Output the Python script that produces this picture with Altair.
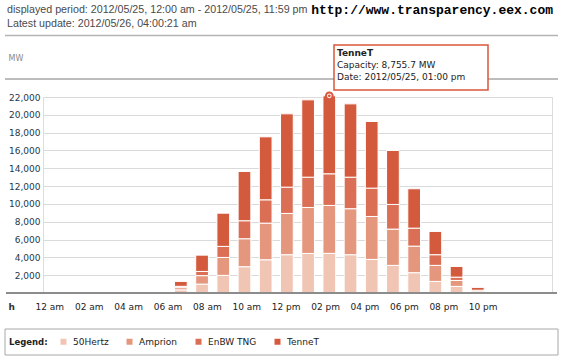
import altair as alt
import pandas as pd

# ---------------- data ----------------
hours = [6, 7, 8, 9, 10, 11, 12, 13, 14, 15, 16, 17, 18, 19, 20]
series = ["50Hertz", "Amprion", "EnBW TNG", "TenneT"]
colors = ["#f1c5b4", "#e5977e", "#db6f56", "#d45a3e"]
hertz50 = [350, 1000, 1980, 2950, 3730, 4300, 4440, 4450, 4300, 3770, 3100, 2280, 1300, 740, 100]
amprion = [250, 950, 2010, 3140, 4110, 4630, 5160, 5380, 5160, 4820, 4070, 2980, 1800, 670, 130]
enbw = [150, 470, 1240, 2020, 2620, 2950, 3400, 3550, 3540, 3180, 2770, 2020, 1200, 370, 80]
tennet = [550, 1830, 3730, 5530, 7070, 8230, 8680, 8755.7, 8230, 7480, 6060, 4420, 2610, 1200, 320]

y_ticks = [2000, 4000, 6000, 8000, 10000, 12000, 14000, 16000, 18000, 20000, 22000]
tick_hours = [0, 2, 4, 6, 8, 10, 12, 14, 16, 18, 20, 22]
tick_labels = ["12 am", "02 am", "04 am", "06 am", "08 am", "10 am",
               "12 pm", "02 pm", "04 pm", "06 pm", "08 pm", "10 pm"]

header1 = "displayed period: 2012/05/25, 12:00 am - 2012/05/25, 11:59 pm"
header2 = "Latest update: 2012/05/26, 04:00:21 am"
url_text = "http://www.transparency.eex.com"
tip_series = "TenneT"
tip_hour = 13
tip_date = "Date: 2012/05/25, 01:00 pm"

# ---------------- tables ----------------
rows = []
for i, h in enumerate(hours):
    for k, (name, vals) in enumerate(zip(series, [hertz50, amprion, enbw, tennet])):
        rows.append({"hour": h, "operator": name, "value": vals[i], "order": k})
df = pd.DataFrame(rows)

ti = hours.index(tip_hour)
tip_total = hertz50[ti] + amprion[ti] + enbw[ti] + tennet[ti]
tip_cap = f"Capacity: {tennet[ti]:,.1f} MW"
pt_df = pd.DataFrame({"hour": [tip_hour], "value": [tip_total]})
one = pd.DataFrame({"a": [0]})

FONT = "DejaVu Sans"
RED = "#d9573c"

xband = alt.Scale(domain=list(range(24)), paddingInner=0.4, paddingOuter=0.2)
yscale = alt.Scale(domain=[0, 22000], nice=False, zero=True)
yaxis = alt.Axis(values=y_ticks, labelExpr="format(datum.value, ',')", title="MW", titleAngle=0,
                 titleX=-35, titleY=-38.5,
                 titleAlign="left", titleBaseline="middle", titleFontSize=8, titleFontWeight="normal",
                 titleColor="#8a8a8a", titleFont=FONT, labelFont=FONT, labelFontSize=9,
                 labelColor="#1d3a4c", labelPadding=3, domain=False, ticks=False, grid=True,
                 gridColor="#dadada", gridWidth=1)

bars = alt.Chart(df).mark_bar(stroke="white", strokeWidth=1).encode(
    x=alt.X("hour:O", scale=xband, axis=None),
    y=alt.Y("value:Q", stack="zero", scale=yscale, axis=yaxis),
    color=alt.Color("operator:N", scale=alt.Scale(domain=series, range=colors),
                    legend=alt.Legend(title="Legend:", orient="none", legendX=-34, legendY=240,
                                      direction="horizontal", columns=4, titleOrient="left",
                                      titleFont=FONT, titleFontSize=8.5, titleFontWeight="bold",
                                      titleColor="#222", titlePadding=11, titleBaseline="middle",
                                      labelFont=FONT, labelFontSize=9, labelColor="#222",
                                      labelOffset=5, symbolType="square", symbolSize=36,
                                      symbolStrokeWidth=0, columnPadding=16)),
    order=alt.Order("order:Q", sort="ascending"),
)

marker = alt.Chart(pt_df).mark_point(shape="circle", filled=True, fill="white", stroke=RED,
                                     strokeWidth=2, size=45, opacity=1).encode(
    x=alt.X("hour:O", scale=xband, axis=None),
    y=alt.Y("value:Q", stack=None, scale=yscale, axis=yaxis),
)
marker_dot = alt.Chart(pt_df).mark_point(shape="circle", filled=True, color=RED, size=8, opacity=1).encode(
    x=alt.X("hour:O", scale=xband, axis=None),
    y=alt.Y("value:Q", stack=None, scale=yscale, axis=yaxis),
)

label_expr = "[" + ",".join(f"'{l}'" for l in tick_labels) + "][datum.value/2]"
xlab = alt.Chart(pd.DataFrame({"t": tick_hours})).mark_point(opacity=0).encode(
    x=alt.X("t:Q", scale=alt.Scale(domain=[-0.32, 25.52], nice=False, zero=False),
            axis=alt.Axis(orient="bottom", values=tick_hours, labelExpr=label_expr, title="h",
                          titleX=-35, titleY=13.5, titleAlign="left", titleBaseline="middle",
                          titleFont=FONT, titleFontSize=9, titleFontWeight="bold", titleColor="#333",
                          labelFont=FONT, labelFontSize=9, labelColor="#222", labelPadding=9,
                          domain=False, ticks=False, grid=False, labelFlush=False,
                          labelOverlap=False)),
)

baseline = alt.Chart(one).mark_rule(color="#8c8c8c", strokeWidth=2).encode(
    y=alt.YDatum(0, scale=yscale, axis=yaxis), x=alt.value(-37), x2=alt.value(514))

sep1 = alt.Chart(one).mark_rule(color="#b4b4b4", strokeWidth=1.5).encode(
    x=alt.value(-38), x2=alt.value(515), y=alt.value(-61.5))
sep2 = alt.Chart(one).mark_rule(color="#7a7a7a", strokeWidth=1).encode(
    x=alt.value(-38), x2=alt.value(515), y=alt.value(-18))

tipbox = alt.Chart(one).mark_rect(fill="white", stroke=RED, strokeWidth=1.5).encode(
    x=alt.value(291), x2=alt.value(445), y=alt.value(-52), y2=alt.value(-7))
tip1 = alt.Chart(pd.DataFrame({"t": [tip_series]})).mark_text(
    font=FONT, fontSize=9, fontWeight="bold", color="#222", align="left", baseline="alphabetic").encode(
    text="t:N", x=alt.value(294), y=alt.value(-41))
tip2 = alt.Chart(pd.DataFrame({"t": [tip_cap]})).mark_text(
    font=FONT, fontSize=9, color="#222", align="left", baseline="alphabetic").encode(
    text="t:N", x=alt.value(294), y=alt.value(-29))
tip3 = alt.Chart(pd.DataFrame({"t": [tip_date]})).mark_text(
    font=FONT, fontSize=9, color="#222", align="left", baseline="alphabetic").encode(
    text="t:N", x=alt.value(294), y=alt.value(-17))

h1 = alt.Chart(pd.DataFrame({"t": [header1]})).mark_text(
    font="Liberation Sans", fontSize=10.7, color="#4a4a4a", align="left", baseline="alphabetic").encode(
    text="t:N", x=alt.value(-36), y=alt.value(-84.5))
h2 = alt.Chart(pd.DataFrame({"t": [header2]})).mark_text(
    font="Liberation Sans", fontSize=10.7, color="#4a4a4a", align="left", baseline="alphabetic").encode(
    text="t:N", x=alt.value(-36), y=alt.value(-70.5))
url = alt.Chart(pd.DataFrame({"t": [url_text]})).mark_text(
    font="Liberation Mono", fontSize=13, fontWeight="bold", color="#000", align="right",
    baseline="alphabetic").encode(text="t:N", x=alt.value(510), y=alt.value(-83))

legbox = alt.Chart(one).mark_rect(fill="white", fillOpacity=0, stroke="#a8a8a8", strokeWidth=1).encode(
    x=alt.value(-38), x2=alt.value(515), y=alt.value(232), y2=alt.value(258))

chart = alt.layer(
    sep1, sep2, legbox, bars, baseline, marker, marker_dot, tipbox, tip1, tip2, tip3,
    h1, h2, url, xlab
).resolve_scale(x="independent").properties(
    width=509, height=196,
    autosize=alt.AutoSizeParams(type="none"),
    padding={"left": 43, "top": 97, "right": 11, "bottom": 67},
    background="white",
).configure_view(stroke=None).configure(font=FONT)

chart.save("out.html", embed_options={"renderer": "svg", "actions": False})
